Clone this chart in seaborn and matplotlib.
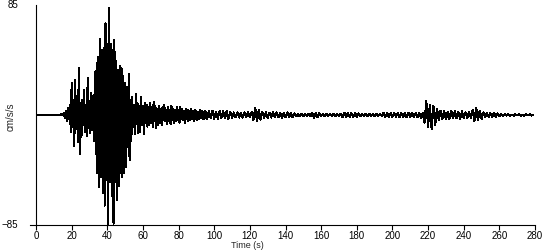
import numpy as np
import pandas as pd
import matplotlib
matplotlib.use("Agg")
import matplotlib.pyplot as plt
import seaborn as sns

# ---- data (acceleration peaks, cm/s/s) ----
# pre-event noise, 1 s sampling, t = 0 .. 14
t_pre = np.arange(0, 15, 1.0)
acc_pre = [0.4, -0.4, 0.4, -0.4, 0.4, -0.4, 0.4, -0.4, 0.4, -0.4,
           0.4, -0.4, 0.4, -0.4, 0.4]

# strong motion, 0.5 s sampling, t = 15 .. 94.5
t_strong = np.arange(15, 95, 0.5)
acc_strong = [
    0.6, -0.8, 1.5, -2.5, 3, -4.5, 5.5, -3, 8, -13,
    25, -9, 12, -24, 27, -11, 10, -21, 36, -30,
    9, -17, 12, -8, 19, -13, 8, -16, 29, -10,
    11, -14, 17, -12, 15, -20, 33, -30, 40, -45,
    45, -56, 59, -48, 50, -60, 52, -70, 71, -50,
    55, -84, 83, -52, 55, -63, 50, -84, 58, -52,
    42, -66, 35, -55, 38, -45, 36, -48, 30, -45,
    25, -40, 22, -25, 32, -35, 12, -20, 14, -9,
    8, -15, 16, -7, 9, -14, 7, -13, 14, -8,
    7, -15, 9, -6, 8, -9, 6, -8, 9, -6,
    6, -9, 10, -5, 7, -10, 5, -8, 7, -6,
    5, -8, 6, -4, 8, -5, 4, -7, 6, -5,
    4, -7, 7, -4, 5, -6, 4, -5, 6, -4,
    4, -6, 6, -3, 5, -4, 3, -6, 5, -3,
    4, -5, 3, -4, 5, -3, 3, -5, 4, -3,
    3, -4, 2.5, -3.5, 4, -2.5, 3, -3.5, 2.5, -3,
]

# coda and later arrivals, 1 s sampling, t = 95 .. 279
t_coda = np.arange(95, 280, 1.0)
acc_coda = [
    3, -3.5, 3, -2.5, 3.5, -3, 2.5, -3, 3, -2.5,
    3, -2.5, 3, -3, 2.5, -2, 2, -1.8, 2, -2,
    1.8, -2, 2, -1.5, 2, -1.8, 2.5, -4, 5.5, -5,
    4, -3.5, 2.5, -2, 2, -2.2, 1.8, -2, 2, -1.5,
    2, -1.8, 1.5, -2, 1.8, -1.5, 2, -1.6, 1.5, -1.8,
    1.2, -1, 0.8, -0.9, 1, -0.8, 0.9, -0.8, 1, -0.9,
    1.8, -2, 1.5, -1.8, 1.6, -0.9, 0.8, -1, 0.8, -0.7,
    0.9, -0.8, 0.7, -0.9, 0.8, -0.8, 1, -1.5, 1.8, -1.6,
    1.8, -1.7, 1.5, -1.8, 1.6, -1.5, 1.2, -0.9, 0.8, -0.9,
    0.8, -0.7, 0.9, -0.8, 0.7, -0.9, 0.8, -0.7, 0.9, -0.8,
    1.5, -1.6, 1.4, -1.7, 1.5, -1.5, 1.8, -1.4, 1.5, -1.6,
    1.7, -1.5, 1.4, -1.8, 1.6, -1.5, 1.8, -1.7, 1.5, -1.8,
    1.8, -2, 1.5, -6, 11, -9, 8, -11, 7, -8,
    5, -4, 3.5, -3, 3, -3.5, 2.5, -3, 3.5, -2.5,
    3, -2.5, 2.5, -3, 2.8, -2.5, 2, -2.5, 2.5, -2,
    4, -4.6, 5.4, -4, 3.5, -3, 2, -1.8, 1.5, -1.6,
    1.5, -1.4, 1.6, -1.5, 1.2, -0.8, 0.6, -0.5, 0.5, -0.5,
    0.5, -0.5, 0.4, -0.5, 0.5, -0.4, 0.5, -0.5, 0.4, -0.5,
    0.5, -0.4, 0.5, -0.5, 0.4,
]

x_ticks = list(range(0, 281, 20))
y_ticks = [-85, 85]
x_label = "Time (s)"
y_label = "cm/s/s"

df = pd.DataFrame({
    "t": np.concatenate([t_pre, t_strong, t_coda]),
    "acc": np.concatenate([acc_pre, acc_strong, acc_coda]),
})

sns.set_style("ticks")
plt.rcParams["font.family"] = ["Liberation Sans", "DejaVu Sans"]

fig = plt.figure(figsize=(5.5, 2.5), dpi=100)
ax = fig.add_axes([36 / 550, 25 / 250, 499 / 550, 220 / 250])

sns.lineplot(data=df, x="t", y="acc", ax=ax, color="black", linewidth=0.75,
             sort=False, estimator=None, antialiased=False)

ax.set_xlim(0, 280)
ax.set_ylim(-85, 85)
ax.set_xticks(x_ticks)
ax.set_yticks(y_ticks)
ax.tick_params(axis="x", direction="out", length=3.6, width=0.8, pad=0.5,
               labelsize=7, colors="black")
ax.tick_params(axis="y", length=0, pad=13, labelsize=7, colors="black")
for lab in ax.get_yticklabels():
    lab.set_verticalalignment("top" if lab.get_text() == "-85" else "center")

for s in ["top", "right"]:
    ax.spines[s].set_visible(False)
for s in ["left", "bottom"]:
    ax.spines[s].set_color("black")
    ax.spines[s].set_linewidth(0.8)
ax.spines["bottom"].set_bounds(-3.4, 280)

ax.set_xlabel(x_label, fontsize=6.5, va="top")
ax.xaxis.set_label_coords((247 - 36) / 499, -(241.5 - 225) / 220)
ax.set_ylabel(y_label, fontsize=7)
ax.yaxis.set_label_coords((16 - 36) / 499, (225 - 117) / 220)

fig.savefig("out.png", dpi=100, facecolor="white")
